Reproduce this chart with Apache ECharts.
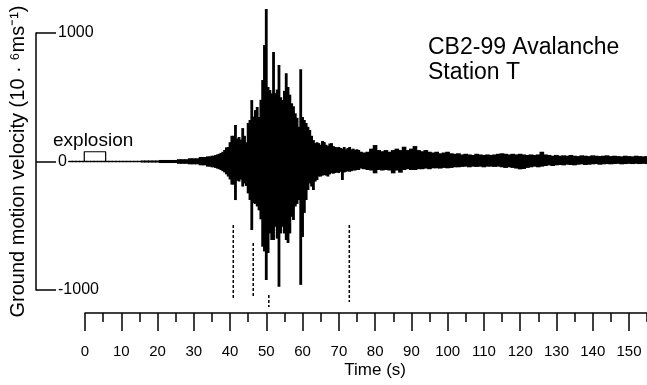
<!DOCTYPE html>
<html>
<head>
<meta charset="utf-8">
<script src="https://cdn.jsdelivr.net/npm/echarts@6/dist/echarts.min.js"></script>
<style>
html,body{margin:0;padding:0;background:#fff;}
#c{width:647px;height:385px;}
</style>
</head>
<body>
<div id="c"></div>
<script>
// ---- data ----
const xTickLabels = [0,10,20,30,40,50,60,70,80,90,100,110,120,130,140,150];
const yTickLabels = [-1000, 0, 1000];

// quiet part before the avalanche, 1 s bins from -4 s to 33 s
const quietStart = -4, quietStep = 1;
const quietUpper = [5,5,5,5,5,5,5,5,5,5,5,5,5,5,5,5,5,5,5,5, 8,8,8,8,8, 12,12,12,12,12, 18,18,18, 25,25,25, 35,35];
const quietLower = [-5,-5,-5,-5,-5,-5,-5,-5,-5,-5,-5,-5,-5,-5,-5,-5,-5,-5,-5,-5, -8,-8,-8,-8,-8, -12,-12,-12,-12,-12, -18,-18,-18, -22,-22,-22, -30,-30];

// main burst, 0.5 s bins from 34 s to 75.5 s
const burstStart = 34, burstStep = 0.5;
const burstUpper = [40,40,45,45,50,55,60,66,75,90, 110,113,150,200,200,284,180,190,170,260,
  200,150,300,323,478,350,400,424,346,480, 634,906,1186,580,556,530,852,532,560,751,
  500,478,550,687,580,520,453,430,375,340, 270,718,346,323,300,270,245,200,167,143,
  150,143,130,160,152,130,120,140,143,120, 113,110,113,105,100,113,95,105,113,95,
  100,90,95,90];
const burstLower = [-40,-40,-45,-45,-50,-55,-60,-66,-75,-85, -100,-117,-140,-180,-180,-300,-150,-156,-140,-195,
  -171,-190,-248,-300,-533,-325,-330,-350,-380,-450, -663,-700,-922,-712,-560,-611,-611,-508,-600,-975,
  -560,-508,-560,-611,-634,-560,-430,-455,-350,-330, -300,-960,-587,-400,-300,-222,-171,-195,-222,-156,
  -144,-117,-117,-110,-105,-110,-117,-100,-90,-95, -90,-85,-90,-80,-144,-85,-80,-75,-80,-75,
  -70,-70,-66,-66];

// coda, 1 s bins from 76 s to 155 s
const codaStart = 76, codaStep = 1;
const codaUpper = [76,70,76,100,128,89,80,89,76,89, 100,89,115,89,100,120,89,80,89,76,
  70,76,64,70,76,64,60,64,55,60, 55,51,60,55,51,55,51,55,60,64,
  60,55,60,55,60,55,51,55,51,55, 76,55,51,45,51,45,48,45,51,45,
  42,48,45,42,48,45,42,45,48,42, 45,42,40,45,42,40,45,42,40,42];
const codaLower = [-55,-60,-66,-70,-92,-66,-70,-66,-70,-92, -70,-87,-66,-60,-66,-66,-60,-60,-55,-60,
  -53,-53,-55,-50,-53,-50,-45,-45,-42,-40, -45,-40,-42,-40,-45,-40,-40,-42,-40,-45,
  -50,-45,-50,-55,-61,-58,-50,-45,-40,-45, -40,-35,-30,-35,-30,-27,-30,-25,-27,-30,
  -25,-22,-27,-25,-22,-20,-25,-22,-20,-22, -20,-18,-22,-20,-18,-20,-18,-20,-18,-20];

// explosion box
const explosionTimes = [-0.2, 5.7];
const explosionHeight = 76;

// dashed phase markers
const markerTimes = [40.9, 46.4, 50.7, 72.9];
const markerTop = [-494, -634, -1039, -494];
const markerBottom = [-1077, -1062, -1132, -1093];

// ---- build ----
function segment(start, step, up, lo) {
  return up.map((u, i) => [start + i * step, lo[i], u]);
}
const samples = [].concat(
  segment(quietStart, quietStep, quietUpper, quietLower),
  segment(burstStart, burstStep, burstUpper, burstLower),
  segment(codaStart, codaStep, codaUpper, codaLower)
);
// bin edges at midpoints between neighbouring sample times
const traceData = samples.map((s, i) => {
  const prev = i > 0 ? samples[i - 1][0] : s[0] - (samples[1][0] - s[0]);
  const next = i < samples.length - 1 ? samples[i + 1][0] : s[0] + (s[0] - samples[i - 1][0]);
  return [s[0], s[1], s[2], (s[0] + prev) / 2, (s[0] + next) / 2];
});

const FONT = 'Liberation Sans, Arial, Helvetica, sans-serif';
const black = '#000';

const series = [{
  type: 'custom',
  xAxisIndex: 0, yAxisIndex: 0,
  clip: false,
  silent: true,
  data: traceData,
  renderItem: function (params, api) {
    const lo = api.value(1), hi = api.value(2), a = api.value(3), b = api.value(4);
    const p1 = api.coord([a, hi]);
    const p2 = api.coord([b, lo]);
    let y = p1[1], h = p2[1] - p1[1];
    if (h < 1.4) { y = (p1[1] + p2[1]) / 2 - 0.7; h = 1.4; }
    return {
      type: 'rect',
      shape: { x: p1[0] - 0.5, y: y, width: p2[0] - p1[0] + 1.0, height: h },
      style: { fill: black, lineWidth: 0 }
    };
  }
}, {
  type: 'line',
  xAxisIndex: 0, yAxisIndex: 0,
  symbol: 'none', silent: true, clip: false,
  lineStyle: { color: black, width: 1.2 },
  data: [[explosionTimes[0], 0], [explosionTimes[0], explosionHeight],
         [explosionTimes[1], explosionHeight], [explosionTimes[1], 0]]
}];
markerTimes.forEach((t, i) => {
  series.push({
    type: 'line', xAxisIndex: 0, yAxisIndex: 0,
    symbol: 'none', silent: true, clip: false,
    lineStyle: { color: black, width: 1.5, type: [3, 2] },
    data: [[t, markerTop[i]], [t, markerBottom[i]]]
  });
});

const chart = echarts.init(document.getElementById('c'), null, { renderer: 'canvas' });
chart.setOption({
  animation: false,
  backgroundColor: '#fff',
  textStyle: { fontFamily: FONT, color: black },
  title: {
    text: 'CB2-99 Avalanche\nStation T',
    left: 428, top: 35, padding: 0,
    textStyle: { fontSize: 23, fontWeight: 'normal', lineHeight: 25, color: black, fontFamily: FONT }
  },
  graphic: [{
    type: 'text', left: 53, top: 131,
    style: { text: 'explosion', font: '19px ' + FONT, fill: black }
  }],
  grid: [
    { left: 36, right: 0, top: 33, height: 257, outerBoundsMode: 'none' },
    { left: 85, right: -18.3, top: 300, bottom: 72, outerBoundsMode: 'none' }
  ],
  xAxis: [{
    gridIndex: 0, type: 'value', min: -13.51, max: 155, show: false
  }, {
    gridIndex: 1, type: 'value', min: 0, max: 160, interval: 10,
    position: 'bottom',
    axisLine: { show: true, onZero: false, lineStyle: { color: black, width: 1.5 } },
    axisTick: { show: true, length: 18, lineStyle: { color: black, width: 1.5 } },
    minorTick: { show: true, splitNumber: 2, length: 9, lineStyle: { color: black, width: 1.5 } },
    splitLine: { show: false }, minorSplitLine: { show: false },
    axisLabel: {
      margin: 31, fontSize: 15, color: black, fontFamily: FONT,
      showMaxLabel: false,
      formatter: v => (xTickLabels.indexOf(v) >= 0 ? String(v) : '')
    },
    name: 'Time (s)', nameLocation: 'middle', nameGap: 49,
    nameTextStyle: { fontSize: 17, color: black, fontFamily: FONT }
  }],
  yAxis: [{
    gridIndex: 0, type: 'value', min: -1000, max: 1000, interval: 1000,
    axisLine: { show: true, onZero: false, lineStyle: { color: black, width: 1.5 } },
    axisTick: { show: true, inside: true, length: 20, lineStyle: { color: black, width: 1.5 } },
    axisLabel: {
      inside: true, margin: 22, fontSize: 16, color: black, fontFamily: FONT,
      formatter: v => (yTickLabels.indexOf(v) >= 0 ? String(v) : '')
    },
    splitLine: { show: false },
    name: 'Ground motion velocity (10 · \u2076ms\u207B\u00B9)',
    nameLocation: 'middle', nameGap: 6,
    nameTextStyle: { fontSize: 20, color: black, fontFamily: FONT }
  }, {
    gridIndex: 1, type: 'value', min: 0, max: 1, show: false
  }],
  series: series
});
</script>
</body>
</html>
